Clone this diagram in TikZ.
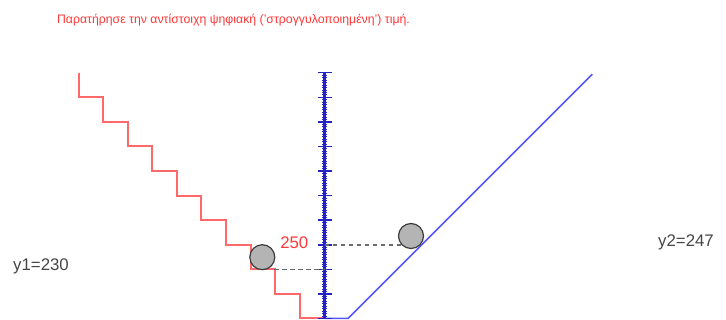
\documentclass[tikz,border=0pt]{standalone}
\usepackage{fontspec}
\setmainfont{Liberation Sans}
\usetikzlibrary{calc}
\definecolor{stairred}{RGB}{255,105,105}
\definecolor{titlered}{RGB}{255,55,55}
\definecolor{axisblue}{RGB}{35,35,200}
\definecolor{rampblue}{RGB}{85,85,255}
\definecolor{ballgray}{RGB}{180,180,180}
\definecolor{rimgray}{RGB}{60,60,60}
\definecolor{dashgray}{RGB}{105,105,105}
\definecolor{textgray}{RGB}{70,70,70}
\tikzset{
 ball/.style={circle,draw=rimgray,fill=ballgray,line width=1.2pt,minimum size=25pt,inner sep=0pt},
 dashline/.style={dashgray,dash pattern=on 4.5pt off 3.5pt,line width=1.4pt},
 lab/.style={text=textgray,font=\fontsize{16.8}{19}\selectfont}
}
\begin{document}
\begin{tikzpicture}[x=1pt,y=-1pt]
 \useasboundingbox (0,0) rectangle (726,320);
 % quantized staircase
 \draw[stairred,line width=2pt] (78.5,72.7) \foreach \k in {0,...,9} { -- ++(0,24.58) -- ++(24.58,0) };
 % ramp
 \coordinate (r0) at (324.5,318.5);
 \coordinate (r1) at (348,318.5);
 \coordinate (r2) at (592.3,74.2);
 \draw[rampblue,line width=1.5pt] (r0)--(r1)--(r2);
 % scale
 \draw[axisblue,line width=3pt] (324.5,72.7)--(324.5,318.5);
 \foreach \k in {0,...,100} \draw[axisblue,line width=.8pt] (322,72.7+2.458*\k)--(327,72.7+2.458*\k);
 \foreach \k in {0,...,10} \draw[axisblue,line width=1.5pt] (317.5,72.7+24.58*\k)--(331.5,72.7+24.58*\k);
 % readings
 \coordinate (q1) at (274.3,269.3);\coordinate (a1) at (324.5,269.3);
 \coordinate (a2) at (324.5,245.1);\coordinate (p2) at (421,245.1);
 \draw[dashline] (q1)--(a1);
 \draw[dashline] (a2)--(p2);
 \node[ball] (b1) at (262.3,257.2) {};
 \node[ball] (b2) at (411,236) {};
 \node[text=titlered,font=\fontsize{16.8}{19}\selectfont,anchor=east,inner sep=0pt] (v250) at (308.5,243) {250};
 \node[lab] (y1) at (41,266) {y1=230};
 \node[lab] (y2) at (686,242) {y2=247};
 \node[text=titlered,font=\fontsize{12.3}{15}\selectfont] (title) at (233.5,20) {Παρατήρησε την αντίστοιχη ψηφιακή ('στρογγυλοποιημένη') τιμή.};
\end{tikzpicture}
\end{document}
